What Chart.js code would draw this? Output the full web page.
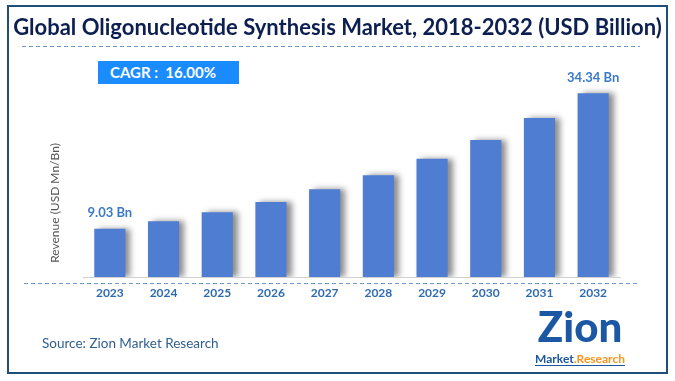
<!DOCTYPE html>
<html>
<head>
<meta charset="utf-8">
<script src="https://cdn.jsdelivr.net/npm/chart.js@4.4.1/dist/chart.umd.min.js"></script>
<style>
  body { margin: 0; width: 675px; height: 381px; position: relative; background: #fff; font-family: Lato, sans-serif; overflow: hidden; }
  #frame { position: absolute; left: 7px; top: 5px; width: 661px; height: 369px; border: 2px solid #1f4e79; box-sizing: border-box; }
  #chart { position: absolute; left: 0; top: 0; }
  #title { position: absolute; left: 0; width: 675px; top: 13px; text-align: center; font-weight: bold; font-size: 22px; color: #0c1f50; white-space: nowrap; }
  #cagr { position: absolute; left: 98px; top: 61px; width: 141px; height: 23px; background: #1a8cff; color: #fff; font-weight: bold; font-size: 15px; line-height: 23px; padding-left: 12px; box-sizing: border-box; }
  #source { position: absolute; left: 42px; top: 335px; font-size: 13.5px; color: #2f5f8f; }
  #logo { position: absolute; left: 530px; top: 305px; width: 100px; text-align: center; }
  #logo .big { font-size: 42px; font-weight: 900; color: #1b57a3; line-height: 42px; letter-spacing: 0px; }
  #logo .small { font-size: 12px; font-weight: bold; line-height: 13px; border-bottom: 1px solid #1b57a3; display: inline-block; }
</style>
</head>
<body>
<div id="frame"></div>
<canvas id="chart" width="675" height="381"></canvas>
<div id="title">Global Oligonucleotide Synthesis Market, 2018-2032 (USD Billion)</div>
<div id="cagr">CAGR :&nbsp; 16.00%</div>
<div id="source">Source: Zion Market Research</div>
<div id="logo"><div class="big">Zion</div><span class="small"><span style="color:#1b57a3">Market</span><span style="color:#f7941d">.Research</span></span></div>
<script>
var years = ["2023", "2024", "2025", "2026", "2027", "2028", "2029", "2030", "2031", "2032"];
var revenue = [9.03, 10.4, 12.1, 14.0, 16.4, 19.0, 22.1, 25.6, 29.7, 34.34];
var valueLabels = ["9.03 Bn", "", "", "", "", "", "", "", "", "34.34 Bn"];

var shadow = {
    id: 'shadow',
    beforeDatasetsDraw: function(chart) {
        var ctx = chart.ctx;
        ctx.save();
        ctx.shadowColor = 'rgba(0,0,0,0.45)';
        ctx.shadowBlur = 6;
        ctx.shadowOffsetX = 5;
    },
    afterDatasetsDraw: function(chart) {
        chart.ctx.restore();
    }
};

var extras = {
    id: 'extras',
    afterDraw: function(chart) {
        var ctx = chart.ctx;
        ctx.save();
        // dashed lines
        ctx.strokeStyle = '#6f95d0';
        ctx.lineWidth = 1;
        ctx.setLineDash([4, 3]);
        ctx.beginPath();
        ctx.moveTo(22, 46.5); ctx.lineTo(640, 46.5);
        ctx.moveTo(24, 283.5); ctx.lineTo(638, 283.5);
        ctx.stroke();
        ctx.setLineDash([]);
        // value labels
        var meta = chart.getDatasetMeta(0);
        ctx.fillStyle = '#3b7ac6';
        ctx.font = 'bold 13px Lato';
        ctx.textAlign = 'center';
        ctx.textBaseline = 'bottom';
        meta.data.forEach(function(bar, i) {
            if (valueLabels[i]) ctx.fillText(valueLabels[i], bar.x, bar.y - 9);
        });
        // y title
        ctx.translate(55, 203);
        ctx.rotate(-Math.PI / 2);
        ctx.fillStyle = '#555';
        ctx.font = '12px Lato';
        ctx.textBaseline = 'middle';
        ctx.fillText('Revenue (USD Mn/Bn)', 0, 0);
        ctx.restore();
    }
};

function drawChart() {
    new Chart(document.getElementById('chart').getContext('2d'), {
        type: 'bar',
        data: {
            labels: years,
            datasets: [{
                data: revenue,
                backgroundColor: '#4e7dd2',
                categoryPercentage: 1,
                barPercentage: 0.58
            }]
        },
        options: {
            responsive: false,
            animation: false,
            layout: { padding: { left: 83, right: 55, top: 63, bottom: 74 } },
            plugins: { legend: { display: false }, tooltip: { enabled: false } },
            scales: {
                x: {
                    grid: { display: false, drawTicks: false },
                    border: { display: true, color: '#d0d0d0', width: 1 },
                    ticks: { color: '#2f6bb0', font: { family: 'Lato', weight: 'bold', size: 12 }, padding: 9 },
                    afterFit: function(s) { s.height = 30; }
                },
                y: { display: false, min: 0, max: 40 }
            }
        },
        plugins: [shadow, extras]
    });
}

Promise.all([
    document.fonts.load('bold 13px Lato'),
    document.fonts.load('12px Lato')
]).then(drawChart, drawChart);
</script>
</body>
</html>
